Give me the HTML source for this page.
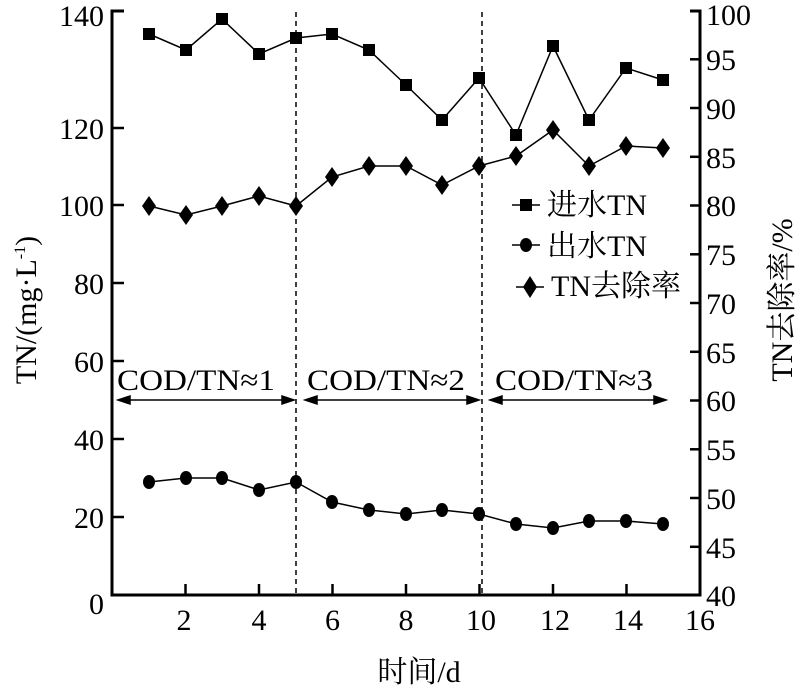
<!DOCTYPE html>
<html><head><meta charset="utf-8"><style>
html,body{margin:0;padding:0;background:#fff;}
svg{display:block;font-family:"Liberation Serif","Noto Serif CJK SC",serif;}
</style></head><body>
<svg width="807" height="700" viewBox="0 0 807 700" xmlns="http://www.w3.org/2000/svg">
<g stroke="#000" stroke-width="3" fill="none">
<polyline points="124,11 112,11 112,595 700,595 700,11 690,11"/>
</g>
<g stroke="#000" stroke-width="2.5">
<line x1="112" y1="128" x2="124" y2="128"/><line x1="112" y1="205" x2="124" y2="205"/>
<line x1="112" y1="283" x2="124" y2="283"/><line x1="112" y1="361" x2="124" y2="361"/>
<line x1="112" y1="439" x2="124" y2="439"/><line x1="112" y1="517" x2="124" y2="517"/>
<line x1="185.5" y1="595" x2="185.5" y2="584"/><line x1="259" y1="595" x2="259" y2="584"/>
<line x1="332.5" y1="595" x2="332.5" y2="584"/><line x1="406" y1="595" x2="406" y2="584"/>
<line x1="479.5" y1="595" x2="479.5" y2="584"/><line x1="553" y1="595" x2="553" y2="584"/>
<line x1="626.5" y1="595" x2="626.5" y2="584"/>
<line x1="690" y1="59.3" x2="700" y2="59.3"/><line x1="690" y1="108" x2="700" y2="108"/>
<line x1="690" y1="156.8" x2="700" y2="156.8"/><line x1="690" y1="205.5" x2="700" y2="205.5"/>
<line x1="690" y1="254.3" x2="700" y2="254.3"/><line x1="690" y1="303" x2="700" y2="303"/>
<line x1="690" y1="351.8" x2="700" y2="351.8"/><line x1="690" y1="400.5" x2="700" y2="400.5"/>
<line x1="690" y1="449.3" x2="700" y2="449.3"/><line x1="690" y1="498" x2="700" y2="498"/>
<line x1="690" y1="546.8" x2="700" y2="546.8"/>
</g>
<g font-size="30" fill="#000">
<g text-anchor="end">
<text x="104" y="26">140</text><text x="104" y="139">120</text><text x="104" y="216">100</text>
<text x="104" y="294">80</text><text x="104" y="372">60</text><text x="104" y="450">40</text>
<text x="104" y="528">20</text><text x="104" y="614">0</text>
</g>
<g text-anchor="middle">
<text x="184" y="630">2</text><text x="259" y="630">4</text><text x="332.5" y="630">6</text>
<text x="406" y="630">8</text><text x="481" y="630">10</text><text x="555" y="630">12</text>
<text x="628" y="630">14</text><text x="700" y="630">16</text>
</g>
<g text-anchor="start">
<text x="706" y="25">100</text><text x="706" y="70">95</text><text x="706" y="119">90</text>
<text x="706" y="168">85</text><text x="706" y="216">80</text><text x="706" y="265">75</text>
<text x="706" y="314">70</text><text x="706" y="363">65</text><text x="706" y="411">60</text>
<text x="706" y="460">55</text><text x="706" y="509">50</text><text x="706" y="558">45</text>
<text x="706" y="606">40</text>
</g>
<text x="419" y="682" text-anchor="middle">时间/d</text>
<text transform="translate(36,310) rotate(-90)" text-anchor="middle">TN/(mg·L<tspan font-size="16" dy="-11">-1</tspan><tspan dy="11">)</tspan></text>
<text transform="translate(792,300) rotate(-90)" text-anchor="middle">TN去除率/%</text>
<text x="117" y="390" textLength="158" lengthAdjust="spacingAndGlyphs">COD/TN≈1</text>
<text x="307" y="390" textLength="158" lengthAdjust="spacingAndGlyphs">COD/TN≈2</text>
<text x="495" y="390" textLength="158" lengthAdjust="spacingAndGlyphs">COD/TN≈3</text>
<text x="547" y="215">进水TN</text>
<text x="547" y="256">出水TN</text>
<text x="551" y="296">TN去除率</text>
</g>
<g stroke="#000" stroke-width="1.5" stroke-dasharray="5,4">
<line x1="296" y1="12" x2="296" y2="595"/><line x1="482" y1="12" x2="482" y2="595"/>
</g>
<g stroke="#000" stroke-width="1.5" fill="#000">
<line x1="120" y1="400" x2="292" y2="400"/><polygon points="118,400 130,396 130,404"/><polygon points="294,400 282,396 282,404"/>
<line x1="307" y1="400" x2="477" y2="400"/><polygon points="305,400 317,396 317,404"/><polygon points="479,400 467,396 467,404"/>
<line x1="492" y1="400" x2="664" y2="400"/><polygon points="490,400 502,396 502,404"/><polygon points="666,400 654,396 654,404"/>
</g>
<g stroke="#000" stroke-width="1.5" fill="none">
<polyline points="149,34 186,50 222,19 259,54 296,38 332,34 369,50 406,85 442,120 479,78 516,135 553,46 589,120 626,68 663,80"/>
<polyline points="149,482 186,478 222,478 259,490 296,482 332,502 369,510 406,514 442,510 479,514 516,524 553,528 589,521 626,521 663,524"/>
<polyline points="149,206 186,215 222,206 259,196 296,206 332,177 369,166 406,166 442,185 479,166 516,156 553,130 589,166 626,146 663,148"/>
<line x1="512" y1="205" x2="540" y2="205"/><line x1="512" y1="245" x2="540" y2="245"/><line x1="516" y1="287" x2="544" y2="287"/>
</g>
<g fill="#000">
<rect x="143" y="28" width="12" height="12"/><rect x="180" y="44" width="12" height="12"/><rect x="216" y="13" width="12" height="12"/>
<rect x="253" y="48" width="12" height="12"/><rect x="290" y="32" width="12" height="12"/><rect x="326" y="28" width="12" height="12"/>
<rect x="363" y="44" width="12" height="12"/><rect x="400" y="79" width="12" height="12"/><rect x="436" y="114" width="12" height="12"/>
<rect x="473" y="72" width="12" height="12"/><rect x="510" y="129" width="12" height="12"/><rect x="547" y="40" width="12" height="12"/>
<rect x="583" y="114" width="12" height="12"/><rect x="620" y="62" width="12" height="12"/><rect x="657" y="74" width="12" height="12"/>
<rect x="520" y="199" width="12" height="12"/>
<ellipse cx="149" cy="482" rx="6" ry="7"/><ellipse cx="186" cy="478" rx="6" ry="7"/><ellipse cx="222" cy="478" rx="6" ry="7"/>
<ellipse cx="259" cy="490" rx="6" ry="7"/><ellipse cx="296" cy="482" rx="6" ry="7"/><ellipse cx="332" cy="502" rx="6" ry="7"/>
<ellipse cx="369" cy="510" rx="6" ry="7"/><ellipse cx="406" cy="514" rx="6" ry="7"/><ellipse cx="442" cy="510" rx="6" ry="7"/>
<ellipse cx="479" cy="514" rx="6" ry="7"/><ellipse cx="516" cy="524" rx="6" ry="7"/><ellipse cx="553" cy="528" rx="6" ry="7"/>
<ellipse cx="589" cy="521" rx="6" ry="7"/><ellipse cx="626" cy="521" rx="6" ry="7"/><ellipse cx="663" cy="524" rx="6" ry="7"/>
<ellipse cx="526" cy="245" rx="6" ry="7"/>
<polygon points="149,196 156,206 149,216 142,206"/><polygon points="186,205 193,215 186,225 179,215"/><polygon points="222,196 229,206 222,216 215,206"/>
<polygon points="259,186 266,196 259,206 252,196"/><polygon points="296,196 303,206 296,216 289,206"/><polygon points="332,167 339,177 332,187 325,177"/>
<polygon points="369,156 376,166 369,176 362,166"/><polygon points="406,156 413,166 406,176 399,166"/><polygon points="442,175 449,185 442,195 435,185"/>
<polygon points="479,156 486,166 479,176 472,166"/><polygon points="516,146 523,156 516,166 509,156"/><polygon points="553,120 560,130 553,140 546,130"/>
<polygon points="589,156 596,166 589,176 582,166"/><polygon points="626,136 633,146 626,156 619,146"/><polygon points="663,138 670,148 663,158 656,148"/>
<polygon points="530,276 537,287 530,298 523,287"/>
</g>
</svg>
</body></html>
